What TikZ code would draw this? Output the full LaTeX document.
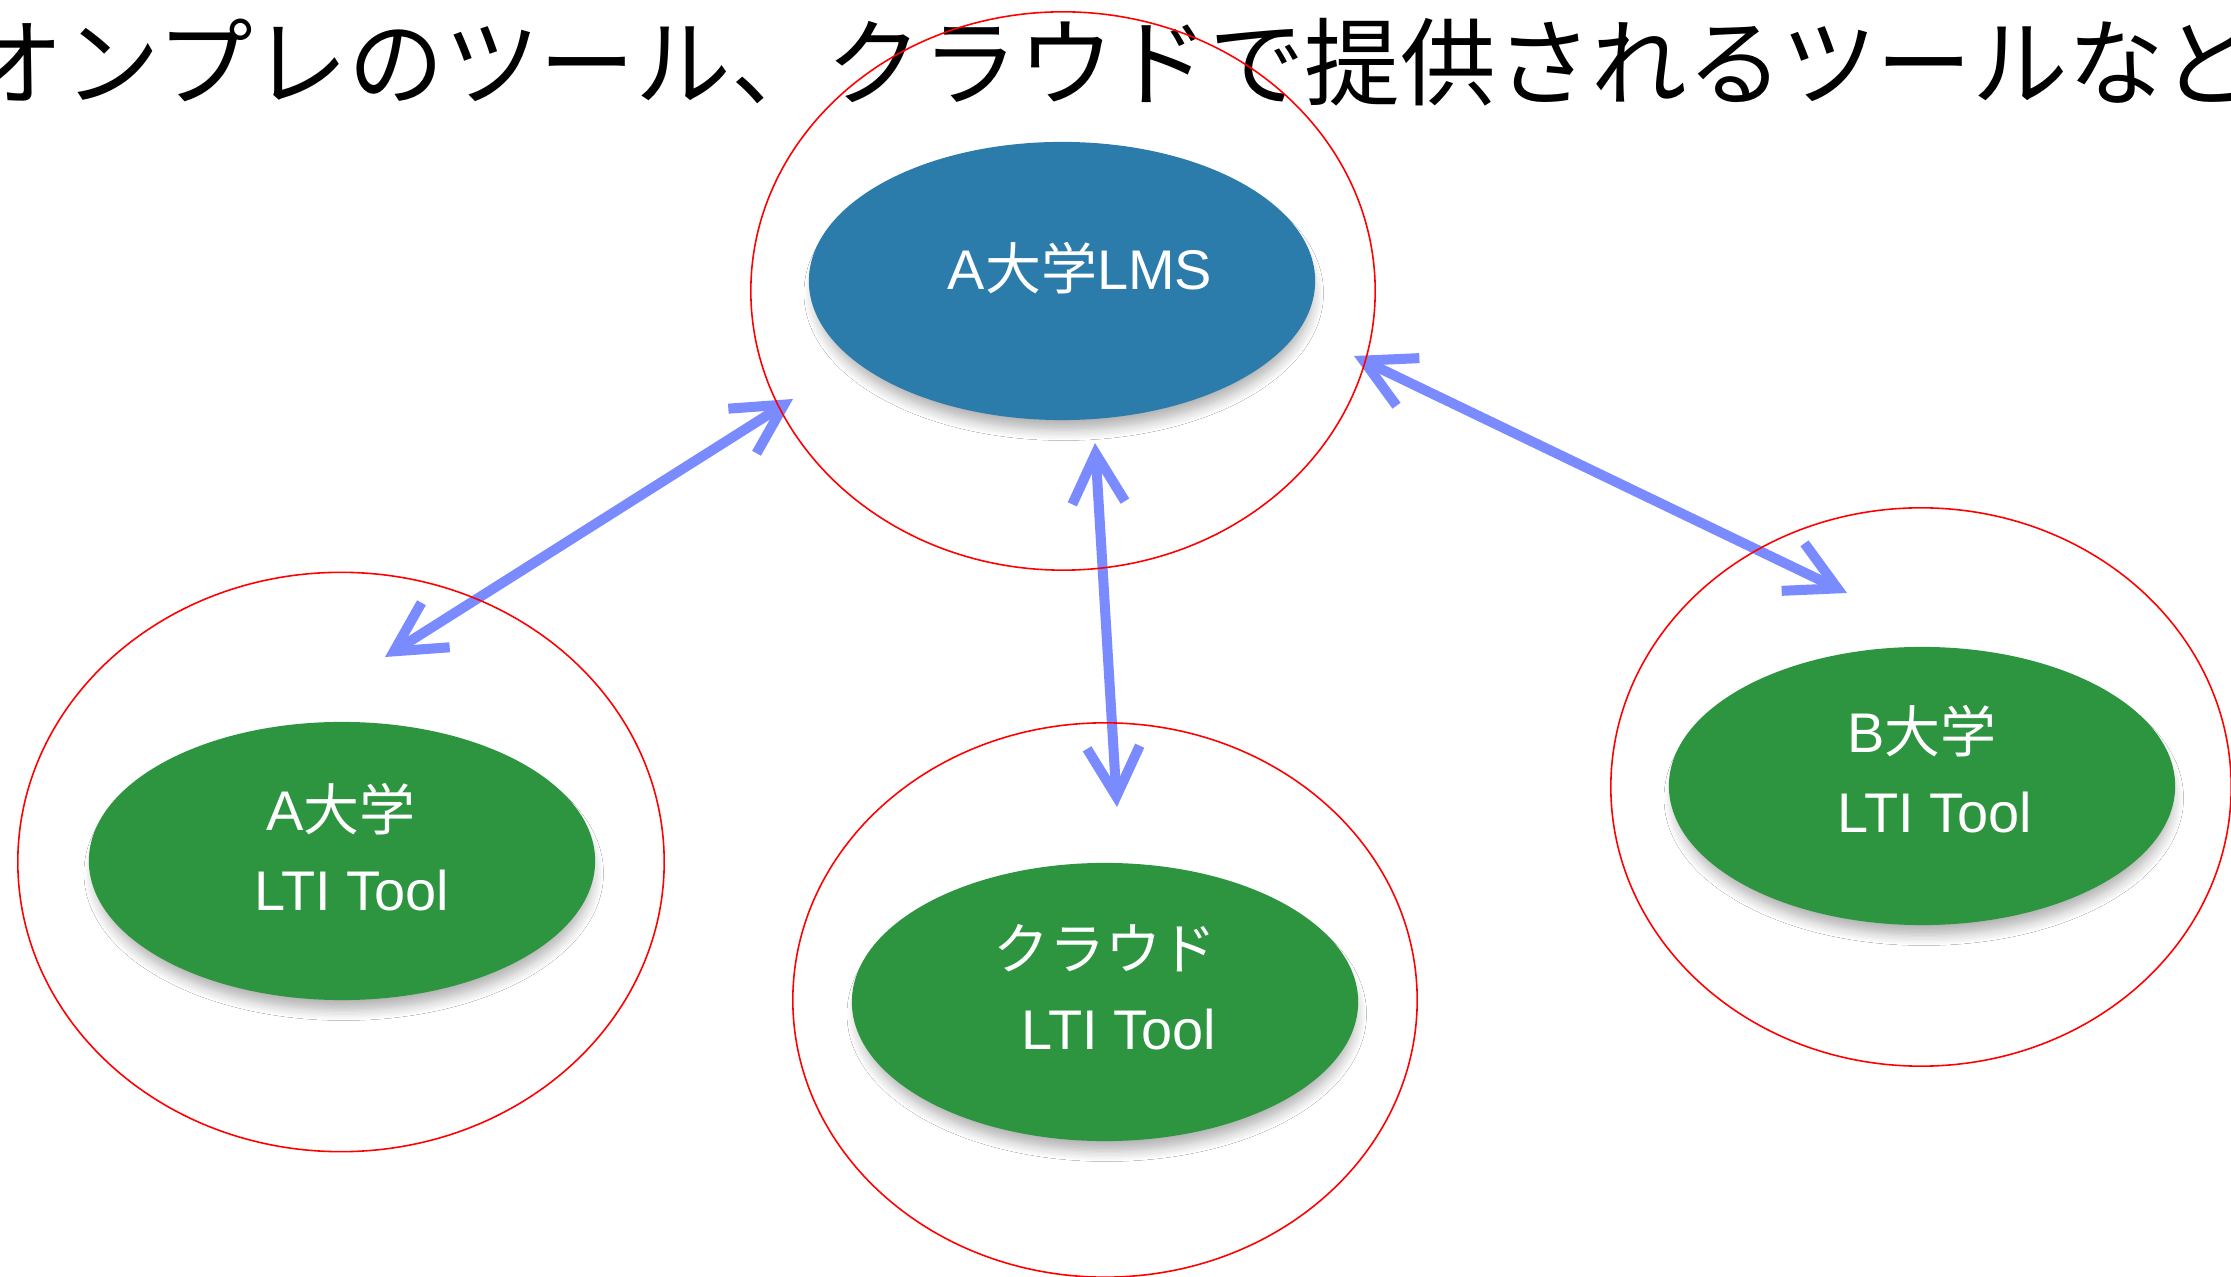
\documentclass[tikz,border=0pt]{standalone}
\usepackage{fontspec}
\setmainfont{Liberation Sans}
\newfontfamily\jp{Noto Sans CJK JP}
\usetikzlibrary{shapes.geometric,arrows.meta,shadows.blur}
\definecolor{lmsblue}{RGB}{43,124,171}
\definecolor{toolgreen}{RGB}{45,148,64}
\definecolor{arrowblue}{RGB}{122,139,255}
\tikzset{
  ring/.style={draw=red, line width=0.45pt, ellipse, inner sep=0pt, outer sep=0pt,
    minimum width=#1},
  blob/.style={ellipse, fill=#1, inner sep=0pt, outer sep=0pt,
    minimum width=5.06cm, minimum height=2.78cm,
    blur shadow={shadow xshift=0.5pt, shadow yshift=-3.5pt, shadow scale=0.985,
      shadow blur radius=3pt, shadow blur steps=8, shadow opacity=30}},
  lbl/.style={anchor=base, inner sep=0pt, text=white, font=\fontsize{15.9pt}{19pt}\selectfont},
  link/.style={draw=arrowblue, line width=2.85pt,
    {Straight Barb[length=14pt,width=15pt]}-{Straight Barb[length=14pt,width=15pt]}},
}
\begin{document}
\begin{tikzpicture}[x=0.01cm, y=-0.01cm]
\useasboundingbox (0,0) rectangle (2231,1277);
\fill[white] (0,0) rectangle (2231,1277);

% title
\node[anchor=base west, inner sep=0pt, font=\jp\fontsize{27.2pt}{30pt}\selectfont] (title) at (-32,99)
  {オンプレのツール、クラウドで提供されるツールなど};

% filled ellipses
\node[blob=lmsblue] (lms) at (1062,281) {};
\node[blob=toolgreen] (atool) at (342,861) {};
\node[blob=toolgreen] (ctool) at (1105,1002) {};
\node[blob=toolgreen] (btool) at (1922,786) {};

% labels
\node[lbl] (lmsT) at (1080,290) {A{\jp 大学}LMS};
\node[lbl] (aT1) at (341,831) {A{\jp 大学}};
\node[lbl] (aT2) at (352,911) {LTI Tool};
\node[lbl] (cT1) at (1105,969) {\jp クラウド};
\node[lbl] (cT2) at (1119,1049) {LTI Tool};
\node[lbl] (bT1) at (1922,753) {B{\jp 大学}};
\node[lbl] (bT2) at (1935,833) {LTI Tool};

% arrow end points
\coordinate (a1s) at (793,399);
\coordinate (a1e) at (385,657);
\coordinate (a2s) at (1095,443);
\coordinate (a2e) at (1117,807);
\coordinate (a3s) at (1354,356);
\coordinate (a3e) at (1847,593);

\draw[link] (a1s) -- (a1e);
\draw[link] (a2s) -- (a2e);
\draw[link] (a3s) -- (a3e);

% red rings
\node[ring=6.24cm, minimum height=5.58cm] (topR) at (1063,291) {};
\node[ring=6.46cm, minimum height=5.79cm] (leftR) at (341,862) {};
\node[ring=6.24cm, minimum height=5.54cm] (midR) at (1105,1000) {};
\node[ring=6.20cm, minimum height=5.58cm] (rightR) at (1921,787) {};
\end{tikzpicture}
\end{document}
